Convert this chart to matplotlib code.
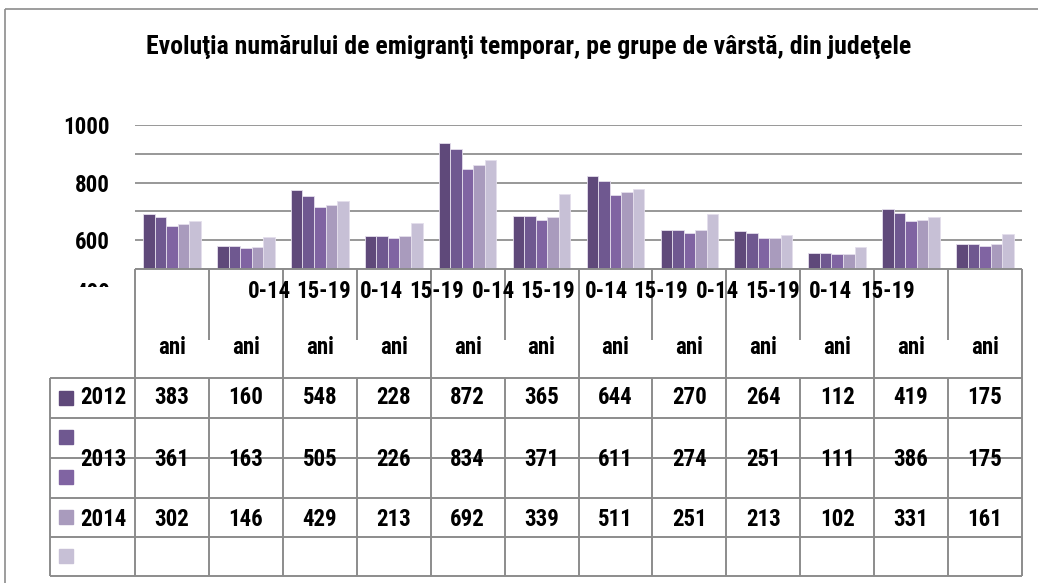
import matplotlib
matplotlib.use("Agg")
import matplotlib.pyplot as plt
from matplotlib.lines import Line2D
from matplotlib.transforms import Bbox
import numpy as np

# ---------------- data ----------------
title = "Evoluţia numărului de emigranţi temporar, pe grupe de vârstă, din judeţele"
age_labels_line1 = ["0-14", "15-19", "0-14", "15-19", "0-14", "15-19",
                    "0-14", "15-19", "0-14", "15-19", "0-14", "15-19"]
age_labels_line2 = ["ani"] * 12
series_names = ["2012", "2013", "", "2014", ""]
s2012 = [383, 160, 548, 228, 872, 365, 644, 270, 264, 112, 419, 175]
s2013 = [361, 163, 505, 226, 834, 371, 611, 274, 251, 111, 386, 175]
s2014 = [302, 146, 429, 213, 692, 339, 511, 251, 213, 102, 331, 161]
s4 = [313, 155, 447, 226, 722, 361, 533, 271, 217, 107, 341, 176]
s5 = [335, 220, 470, 318, 757, 518, 557, 380, 233, 152, 363, 243]
ytick_vals = [1000, 600, 200]
ytick_labels = ["1000", "800", "600"]

colors = ["#5F497A", "#6F5890", "#8064A2", "#A99BBD", "#C7C0D6"]

plt.rcParams['font.family'] = ['Roboto Condensed', 'Liberation Sans', 'DejaVu Sans']
plt.rcParams['font.weight'] = 'bold'
FS = 16.5

W, H = 1038, 583
fig = plt.figure(figsize=(W / 100, H / 100), dpi=100)
fig.patch.set_facecolor("white")

def fx(x):
    return x / W

def fy(y):
    return 1 - y / H

# plot area in pixel coords
x0p, x1p = 135, 1022
y_top, y_bot = 125, 269
ax = fig.add_axes([fx(x0p), fy(y_bot), fx(x1p) - fx(x0p), (y_bot - y_top) / H])
ax.set_xlim(0, 12)
ax.set_ylim(0, 1000)
for sp in ax.spines.values():
    sp.set_visible(False)
ax.set_xticks([])
ax.set_yticks(ytick_vals, labels=ytick_labels)
ax.tick_params(axis='y', length=0, pad=18, labelsize=FS)
for lab in ax.get_yticklabels():
    lab.set_fontweight('bold')
for g in range(0, 1001, 200):
    ax.axhline(g, color="#868686", lw=1.2, zorder=1)

series = [s2012, s2013, s2014, s4, s5]
bw = 0.156
centers = np.arange(12) + 0.5
for k, vals in enumerate(series):
    ax.bar(centers + (k - 2) * bw, vals, width=bw, color=colors[k],
           edgecolor="#E4DEEC", linewidth=0.6, zorder=2, clip_on=True)

# clipped "400" label (only its top is visible above the table)
t400 = fig.text(fx(110), fy(293), "400", ha="right", va="center", fontsize=FS,
                fontweight="bold")
t400.set_clip_box(Bbox([[0, H - 287], [135, H]]))

# title
fig.text(fx(529), fy(47), title, ha="center", va="center", fontsize=18.5,
         fontweight="bold")

lc = "#8C8C8C"
lw_t = 1.4

def hl(xa, xb, y, lw=lw_t, c=lc):
    fig.add_artist(Line2D([fx(xa), fx(xb)], [fy(y), fy(y)], color=c, lw=lw,
                          transform=fig.transFigure, solid_capstyle='butt'))

def vl(x, ya, yb, lw=lw_t, c=lc):
    fig.add_artist(Line2D([fx(x), fx(x)], [fy(ya), fy(yb)], color=c, lw=lw,
                          transform=fig.transFigure, solid_capstyle='butt'))

# outer frame
hl(5, 1038, 9, lw=1.2, c="#8C8C8C")
vl(5, 9, 583, lw=1.2, c="#8C8C8C")

# table geometry
col_w = (x1p - x0p) / 12
col_edges = [x0p + i * col_w for i in range(13)]
row_edges = [378, 418, 458, 498, 537, 576]
leg_x = 50

hl(x0p, x1p, y_bot)
for i, xe in enumerate(col_edges):
    if i % 2 == 0:
        vl(xe, y_bot, 576)
    else:
        vl(xe, y_bot, 340)
        vl(xe, 378, 576)
for ye in row_edges:
    hl(leg_x, x1p, ye)
vl(leg_x, 378, 576)

# header labels
line1_x = [269, 324, 381, 437, 493, 548, 606, 661, 717, 773, 830, 888]
for lab, xc in zip(age_labels_line1, line1_x):
    fig.text(fx(xc), fy(292), lab, ha="center", va="center", fontsize=FS,
             fontweight="bold")
for i, lab in enumerate(age_labels_line2):
    xc = x0p + (i + 0.5) * col_w
    fig.text(fx(xc), fy(347), lab, ha="center", va="center", fontsize=FS,
             fontweight="bold")

# legend keys
key_y = [398, 437, 477, 517, 556]
for k, yk in enumerate(key_y):
    fig.add_artist(plt.Rectangle((fx(59), fy(yk + 7)), 14 / W, 14 / H,
                                 transform=fig.transFigure, color=colors[k]))

# row labels and values
row_y = [398, 460, 519]
row_names = ["2012", "2013", "2014"]
row_vals = [s2012, s2013, s2014]
for name, yv, vals in zip(row_names, row_y, row_vals):
    fig.text(fx(80), fy(yv), name, ha="left", va="center", fontsize=FS,
             fontweight="bold")
    for i, v in enumerate(vals):
        xc = x0p + (i + 0.5) * col_w
        fig.text(fx(xc), fy(yv), str(v), ha="center", va="center", fontsize=FS,
                 fontweight="bold")

fig.savefig("out.png", dpi=100)
